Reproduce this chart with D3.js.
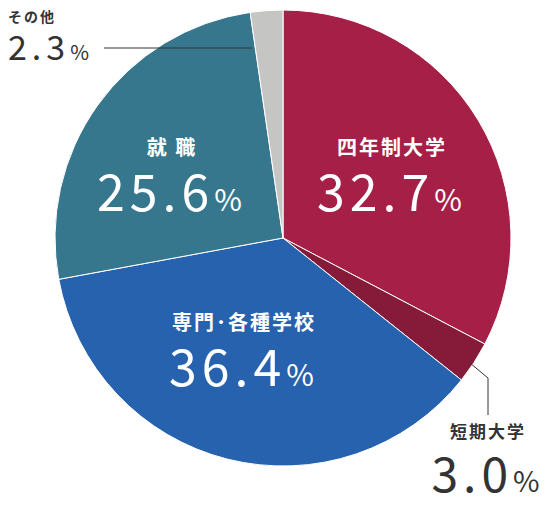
<!DOCTYPE html>
<html><head><meta charset="utf-8">
<script src="https://cdn.jsdelivr.net/npm/d3@7"></script>
<style>body{margin:0;background:#fff}text{font-family:"Noto Sans CJK JP","Noto Sans",sans-serif}</style>
</head><body><div id="chart"></div>
<script>
var categories = ["四年制大学", "短期大学", "専門・各種学校", "就職", "その他"];
var values = [32.7, 3.0, 36.4, 25.6, 2.3];
var colors = ["#a61f46", "#851a39", "#2662ae", "#37778e", "#c5c5c3"];

var width = 556, height = 507, cx = 283, cy = 238, r = 228;

var svg = d3.select("#chart").append("svg")
    .attr("width", width).attr("height", height);

var pie = d3.pie().sort(null).value(function(d) { return d; });
var arc = d3.arc().innerRadius(0).outerRadius(r);
var arcs = pie(values);

var g = svg.append("g").attr("transform", "translate(" + cx + "," + cy + ")");
g.selectAll("path").data(arcs).enter().append("path")
    .attr("d", arc)
    .attr("fill", function(d, i) { return colors[i]; })
    .attr("stroke", "#fff").attr("stroke-width", 1);

// label helper: name + big number with small %
function label(x, y, name, v, col, nameSize, numSize, anchor) {
  svg.append("text").attr("x", x).attr("y", y).attr("fill", col)
    .attr("text-anchor", anchor).attr("font-size", nameSize).attr("font-weight", "bold")
    .attr("letter-spacing", 2).text(name);
  var t = svg.append("text").attr("x", x).attr("y", y + numSize * 1.12).attr("fill", col)
    .attr("text-anchor", anchor).attr("font-size", numSize).attr("letter-spacing", 5);
  t.append("tspan").text(v.toFixed(1));
  t.append("tspan").attr("font-size", numSize * 0.6).text("%");
}

label(392, 155, categories[0], values[0], "#fff", 20, 50, "middle");
label(172, 155, "就 職", values[3], "#fff", 20, 50, "middle");
label(244, 330, "専門･各種学校", values[2], "#fff", 20, 50, "middle");
label(8, 22, categories[4], values[4], "#333", 14, 34, "start");
label(488, 438, categories[1], values[1], "#333", 17, 48, "middle");

// leader lines
svg.append("line").attr("x1", 104).attr("y1", 48).attr("x2", 252).attr("y2", 48)
  .attr("stroke", "#333").attr("stroke-width", 1);
svg.append("polyline").attr("points", "470,363 488,378 488,415")
  .attr("fill", "none").attr("stroke", "#333").attr("stroke-width", 1);
</script></body></html>
